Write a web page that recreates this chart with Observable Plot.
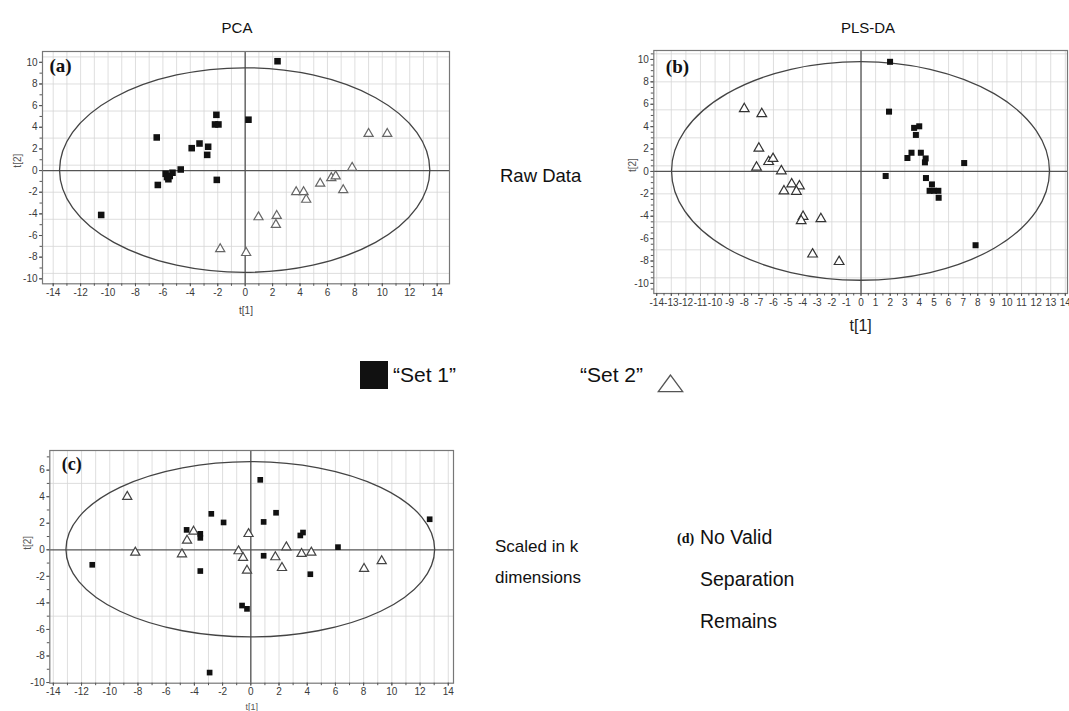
<!DOCTYPE html>
<html><head><meta charset="utf-8">
<script src="https://cdn.jsdelivr.net/npm/d3@7"></script>
<script src="https://cdn.jsdelivr.net/npm/@observablehq/plot@0.6"></script>
<style>
body{margin:0;background:#fff;font-family:"Liberation Sans",Arial,sans-serif;}
#root{position:relative;width:1069px;height:711px;overflow:hidden;background:#fff;}
.abs{position:absolute;white-space:nowrap;color:#111;line-height:1;}
.plot{position:absolute;}
</style></head><body><div id="root"></div>
<script>
// ---------- data (t[1], t[2]) ----------
// (a) PCA, raw data
const pcaSet1 = [[2.36,10.1],[0.24,4.7],[-2.1,5.15],[-2.2,4.26],[-1.95,4.26],[-6.45,3.06],[-3.9,2.07],[-3.33,2.5],[-2.7,2.2],[-2.77,1.45],[-4.7,0.1],[-5.8,-0.3],[-5.5,-0.5],[-5.6,-0.8],[-5.3,-0.2],[-5.7,-0.6],[-6.37,-1.33],[-2.07,-0.86],[-10.5,-4.1]];
const pcaSet2 = [[-1.82,-7.25],[0.07,-7.6],[0.97,-4.3],[2.3,-4.17],[2.24,-5.0],[3.72,-1.98],[4.26,-1.98],[4.45,-2.68],[5.47,-1.2],[6.28,-0.68],[6.6,-0.52],[7.15,-1.8],[7.8,0.27],[9.0,3.4],[10.36,3.4]];
// (b) PLS-DA, raw data
const plsSet1 = [[1.99,9.79],[1.92,5.34],[3.64,3.89],[3.99,4.03],[3.76,3.26],[3.46,1.67],[3.18,1.2],[4.1,1.67],[4.43,1.16],[4.38,0.81],[7.07,0.75],[1.69,-0.41],[4.45,-0.59],[4.86,-1.16],[4.7,-1.73],[5.0,-1.73],[5.3,-1.73],[5.32,-2.35],[7.85,-6.59]];
const plsSet2 = [[-8.0,5.59],[-6.8,5.14],[-7.0,2.06],[-6.33,0.87],[-6.03,1.14],[-7.16,0.36],[-5.46,0.04],[-4.75,-1.13],[-4.22,-1.31],[-5.28,-1.75],[-4.43,-1.79],[-3.97,-4.03],[-4.1,-4.41],[-2.75,-4.23],[-3.32,-7.39],[-1.5,-8.06]];
// (c) scaled in k dimensions
const scaledSet1 = [[-2.8,2.71],[-1.93,2.06],[-4.55,1.5],[-3.58,1.2],[-3.58,0.9],[-3.58,-1.6],[-11.24,-1.13],[-0.62,-4.2],[-0.27,-4.45],[-2.92,-9.25],[0.67,5.27],[1.79,2.79],[0.91,2.1],[3.51,1.08],[3.7,1.3],[0.91,-0.45],[6.18,0.2],[4.22,-1.84],[12.68,2.3]];
const scaledSet2 = [[-8.76,4.0],[-8.19,-0.2],[-4.88,-0.33],[-4.52,0.7],[-4.06,1.38],[-0.87,-0.1],[-0.55,-0.6],[-0.27,-1.56],[-0.16,1.2],[1.74,-0.55],[2.21,-1.36],[2.52,0.2],[3.6,-0.3],[4.29,-0.2],[8.03,-1.43],[9.28,-0.85]];
// Hotelling ellipse semi-axes [t1, t2]
const ellipseA = [13.5, 9.45];
const ellipseB = [12.95, 9.76];
const ellipseC = [13.07, 6.6];
// tick labels
const ticksAx = [-14,-12,-10,-8,-6,-4,-2,0,2,4,6,8,10,12,14];
const ticksAy = [-10,-8,-6,-4,-2,0,2,4,6,8,10];
const ticksBx = [-14,-13,-12,-11,-10,-9,-8,-7,-6,-5,-4,-3,-2,-1,0,1,2,3,4,5,6,7,8,9,10,11,12,13,14];
const ticksBy = [-10,-8,-6,-4,-2,0,2,4,6,8,10];
const ticksCx = [-14,-12,-10,-8,-6,-4,-2,0,2,4,6,8,10,12,14];
const ticksCy = [-10,-8,-6,-4,-2,0,2,4,6];
const gridAB = [-9.5,-7,-4.5,-2,0.5,3,5.5,8,10.5];
const gridC = [-5,5];

const root = document.getElementById("root");
const FONT = "Liberation Sans, Arial, sans-serif";
const fmt = d => String(d); // ASCII hyphen-minus, as in the original

function ellipseMark(ab, stroke) {
  return (index, scales) => {
    const {x, y} = scales;
    const el = document.createElementNS("http://www.w3.org/2000/svg", "ellipse");
    el.setAttribute("cx", x(0));
    el.setAttribute("cy", y(0));
    el.setAttribute("rx", Math.abs(x(ab[0]) - x(0)));
    el.setAttribute("ry", Math.abs(y(ab[1]) - y(0)));
    el.setAttribute("fill", "none");
    el.setAttribute("stroke", stroke);
    el.setAttribute("stroke-width", 1.3);
    return el;
  };
}

function panel(cfg) {
  const p = Plot.plot({
    width: cfg.width, height: cfg.height,
    marginLeft: cfg.ml, marginRight: cfg.mr, marginTop: cfg.mt, marginBottom: cfg.mb,
    x: {domain: cfg.xd, label: null},
    y: {domain: cfg.yd, label: null},
    style: {fontFamily: FONT, fontSize: "10px", color: "#444", background: "transparent", overflow: "visible"},
    marks: [
      Plot.ruleX(d3.range(-14, 15), {stroke: "#d6d6d6", strokeWidth: 0.8}),
      Plot.ruleY(cfg.gridY, {stroke: "#d6d6d6", strokeWidth: 0.8}),
      Plot.ruleX([0], {stroke: "#555", strokeWidth: 1.3}),
      Plot.ruleY([0], {stroke: "#555", strokeWidth: 1.3}),
      ellipseMark(cfg.ell, "#444"),
      Plot.frame({stroke: "#777", strokeWidth: 1.2}),
      Plot.axisX({ticks: cfg.minorX, tickSize: 2.5, tickFormat: () => "", label: null, stroke: "#555"}),
      Plot.axisY({ticks: cfg.minorY, tickSize: 2.5, tickFormat: () => "", label: null, stroke: "#555"}),
      Plot.axisX({ticks: cfg.tx, tickSize: 3, tickPadding: 2, tickFormat: fmt, label: null, fontSize: cfg.xfs, fill: "#3a3a3a", stroke: "#555"}),
      Plot.axisY({ticks: cfg.ty, tickSize: 3, tickPadding: 2, tickFormat: fmt, label: null, fontSize: cfg.yfs, fill: "#3a3a3a", stroke: "#555"}),
      Plot.dot(cfg.s2, {x: d => d[0], y: d => d[1], symbol: "triangle", r: cfg.rt, stroke: cfg.tcol, strokeWidth: 1.2, fill: "white"}),
      Plot.dot(cfg.s1, {x: d => d[0], y: d => d[1], symbol: "square", r: cfg.rs, fill: "#111", stroke: "none"}),
      Plot.text([cfg.tag], {frameAnchor: "top-left", dx: cfg.tagdx, dy: cfg.tagdy, textAnchor: "start", lineAnchor: "top",
        fontFamily: "Liberation Serif, Times New Roman, serif", fontWeight: "bold", fontSize: cfg.tagfs, fill: "#111"}),
      Plot.text(["t[1]"], {frameAnchor: "bottom", dy: cfg.xlabdy, fontSize: cfg.xlabfs, fill: cfg.xlabcol, lineAnchor: "middle"}),
      Plot.text(["t[2]"], {frameAnchor: "left", dx: cfg.ylabdx, dy: cfg.ylabdy || 0, rotate: -90, fontSize: 10, fill: "#555", lineAnchor: "middle"})
    ]
  });
  p.classList.add("plot");
  p.style.left = cfg.left + "px";
  p.style.top = cfg.top + "px";
  root.appendChild(p);
}

// (a) PCA
panel({left: 0, top: 40, width: 460, height: 280, ml: 42, mr: 11, mt: 11, mb: 36.7,
  xd: [-14.78, 14.9], yd: [-10.46, 11.0], gridY: gridAB, ell: ellipseA,
  tx: ticksAx, ty: ticksAy, minorX: d3.range(-14, 15, 1), minorY: d3.range(-10, 11, 1), xfs: 10, yfs: 10,
  s1: pcaSet1, s2: pcaSet2, rs: 3.7, rt: 3.4, tcol: "#666",
  tag: "(a)", tagdx: 7, tagdy: 7, tagfs: 19, xlabdy: 27, xlabfs: 10, xlabcol: "#444", ylabdx: -25});

// (b) PLS-DA
panel({left: 610, top: 40, width: 459, height: 290, ml: 43.3, mr: 2, mt: 10, mb: 37,
  xd: [-14.2, 14.15], yd: [-10.9, 10.8], gridY: gridAB, ell: ellipseB,
  tx: ticksBx, ty: ticksBy, minorX: d3.range(-14, 14.1, 0.5), minorY: d3.range(-10.5, 10.6, 0.5), xfs: 10, yfs: 10,
  s1: plsSet1, s2: plsSet2, rs: 3.4, rt: 3.6, tcol: "#333",
  tag: "(b)", tagdx: 12, tagdy: 9, tagfs: 19, xlabdy: 32, xlabfs: 16, xlabcol: "#222", ylabdx: -21});

// (c) scaled in k dimensions
panel({left: 0, top: 440, width: 465, height: 271, ml: 49.3, mr: 12, mt: 10, mb: 28.3,
  xd: [-14.25, 14.37], yd: [-10.05, 7.48], gridY: gridC, ell: ellipseC,
  tx: ticksCx, ty: ticksCy, minorX: d3.range(-14, 15, 1), minorY: d3.range(-10, 7.1, 1), xfs: 10, yfs: 10,
  s1: scaledSet1, s2: scaledSet2, rs: 3.2, rt: 3.4, tcol: "#444",
  tag: "(c)", tagdx: 12, tagdy: 7, tagfs: 18, xlabdy: 24, xlabfs: 9, xlabcol: "#555", ylabdx: -22, ylabdy: -17});

// ---------- text & legend ----------
function txt(s, x, baseline, fs, opts = {}) {
  const d = document.createElement("div");
  d.className = "abs";
  d.textContent = s;
  d.style.fontSize = fs + "px";
  d.style.top = (baseline - 0.8465 * fs) + "px";
  d.style.left = x + "px";
  if (opts.center) d.style.transform = "translateX(-50%)";
  if (opts.family) d.style.fontFamily = opts.family;
  if (opts.weight) d.style.fontWeight = opts.weight;
  root.appendChild(d);
  return d;
}
txt("PCA", 237, 33, 15, {center: true});
txt("PLS-DA", 868, 33, 15, {center: true});
txt("Raw Data", 500, 183, 18.5);
txt("\u201CSet 1\u201D", 393, 381.7, 21);
txt("\u201CSet 2\u201D", 580, 381.7, 21);
txt("Scaled in k", 495, 552, 17);
txt("dimensions", 495, 583, 17);
txt("(d)", 677, 544, 14, {family: "Liberation Serif, Times New Roman, serif", weight: "bold"});
txt("No Valid", 700, 545, 19.5);
txt("Separation", 700, 587, 19.5);
txt("Remains", 700, 629, 19.5);

const NS = "http://www.w3.org/2000/svg";
const leg = document.createElementNS(NS, "svg");
leg.setAttribute("width", 1069); leg.setAttribute("height", 711);
leg.style.position = "absolute"; leg.style.left = "0px"; leg.style.top = "0px"; leg.style.pointerEvents = "none";
const sq = document.createElementNS(NS, "rect");
sq.setAttribute("x", 360); sq.setAttribute("y", 361); sq.setAttribute("width", 28); sq.setAttribute("height", 28);
sq.setAttribute("fill", "#111");
leg.appendChild(sq);
const tri = document.createElementNS(NS, "polygon");
tri.setAttribute("points", "670.5,375 658.3,391.7 682.7,391.7");
tri.setAttribute("fill", "white"); tri.setAttribute("stroke", "#555"); tri.setAttribute("stroke-width", 1.3);
leg.appendChild(tri);
root.appendChild(leg);
</script>
</body></html>
